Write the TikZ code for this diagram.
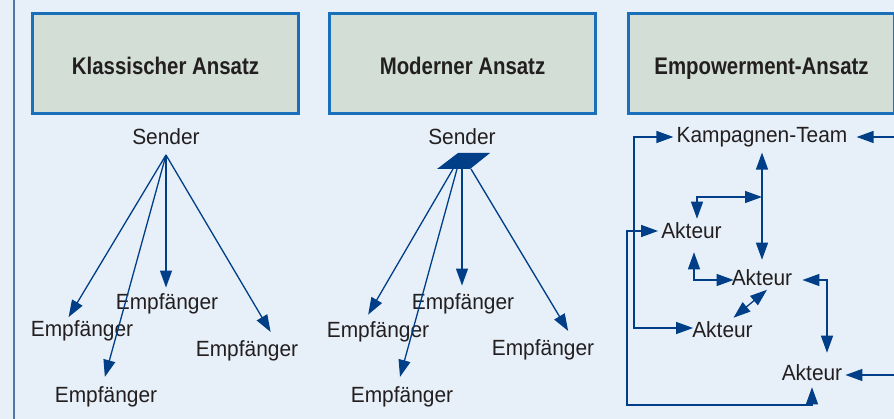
\documentclass[tikz,border=0pt]{standalone}
\usepackage{fontspec}
\setmainfont{Liberation Sans}[FakeStretch=0.95]
\newfontfamily\headfont{Liberation Sans}[FakeStretch=0.85]
\usepackage{tikz}
\usetikzlibrary{arrows.meta}
\definecolor{bgblue}{HTML}{E7F0F9}
\definecolor{boxfill}{HTML}{D3DFD6}
\definecolor{boxline}{HTML}{1A6FBA}
\definecolor{frameline}{HTML}{5078A8}
\definecolor{ink}{HTML}{231F20}
\definecolor{dblue}{HTML}{003F87}
\tikzstyle{ansatz}=[draw=boxline,line width=2.6pt,fill=boxfill,minimum width=266.5pt,minimum height=100.5pt,text height=22pt,text depth=0pt,text=ink,font=\headfont\bfseries\fontsize{24}{28}\selectfont]
\tikzstyle{txt}=[inner xsep=3pt,inner ysep=4pt,text=ink,font=\fontsize{22}{26}\selectfont]
\tikzstyle{rcv}=[txt,inner sep=0pt]
\tikzstyle{msghead}=[>/.tip={Triangle[length=17pt 0 0,width=12pt 0 0]}]
\tikzstyle{msg} =[line width=1.3pt,draw=dblue,msghead,->]
\tikzstyle{msgs}=[line width=1.3pt,draw=dblue,msghead,<->]

\begin{document}
\begin{tikzpicture}[x=1pt,y=-1pt]
	\useasboundingbox (0,0) rectangle (894,419);
	\fill[bgblue] (0,0) rectangle (894,419);
	\draw[frameline,line width=1.5pt] (14,-2) -- (14,421);
	\node[ansatz] (h1) at (165.5,63.5) {Klassischer Ansatz};
	\node[ansatz] (h2) at (462.5,63.5) {Moderner Ansatz};
	\node[ansatz] (h3) at (761.5,63.5) {Empowerment-Ansatz};
	% klassisch
	\node[txt] (s1) at (166,137) {Sender};
	\coordinate (p1) at (166,155);
	\node[rcv] (e1) at (82,331)  {Empfänger};
	\node[rcv] (e2) at (106,397) {Empfänger};
	\node[rcv] (e3) at (167,304) {Empfänger};
	\node[rcv] (e4) at (247,351) {Empfänger};
	\draw[msg,shorten >=4pt]  (p1) -- (e1.146);
	\draw[msg,shorten >=10pt] (p1) -- (e2.110);
	\draw[msg,shorten >=6pt]  (p1) -- (p1 |- e3.north);
	\draw[msg,shorten >=10pt] (p1) -- (e4.20);
	% modern
	\node[txt] (s2) at (462,137) {Sender};
	\fill[dblue] (437,169) -- (458,153) -- (490,153) -- (470,169) -- cycle;
	\coordinate (q1) at (453,169);
	\coordinate (q2) at (457,169);
	\coordinate (q3) at (462,169);
	\coordinate (q4) at (471,169);
	\node[rcv] (f1) at (378,332) {Empfänger};
	\node[rcv] (f2) at (402,397) {Empfänger};
	\node[rcv] (f3) at (463,304) {Empfänger};
	\node[rcv] (f4) at (543,350) {Empfänger};
	\draw[msg,shorten >=8pt]  (q1) -- (f1.143);
	\draw[msg,shorten >=10pt] (q2) -- (f2.114);
	\draw[msg,shorten >=8pt]  (q3) -- (q3 |- f3.north);
	\draw[msg,shorten >=10pt] (q4) -- (f4.19);
	% empowerment
	\node[txt] (k)  at (762,137)   {Kampagnen-Team};
	\node[txt] (a1) at (691.5,231) {Akteur};
	\node[txt] (a2) at (762,277.5) {Akteur};
	\node[txt] (a3) at (722.5,330) {Akteur};
	\node[txt] (a4) at (812,373)   {Akteur};
	\coordinate (j)  at (762,197);
	\coordinate (r1) at (900,137);
	\coordinate (r2) at (900,375);
	\draw[msgs,shorten <=1.5pt,shorten >=5.5pt] (k.south) -- (a2.north);
	\draw[msgs] (j) -| ([xshift=5.5pt]a1.north);
	\draw[msgs,shorten <=9pt,shorten >=-5pt] ([xshift=2.5pt]a1.south) |- ([yshift=-2.5pt]a2.west);
	\draw[msgs] ([xshift=5pt]a2.south) -- ([xshift=11pt]a3.north);
	\draw[msgs,shorten <=7pt,shorten >=8pt] ([yshift=-2.5pt]a2.east) -| ([xshift=15pt]a4.north);
	\draw[msgs,shorten >=-4pt] (k.west) -- ++(-39.5,0) |- ([yshift=2pt]a3.west);
	\draw[msgs,shorten >=2pt] (a1.west) -- ++(-31,0) -- ++(0,174) -| (a4.south);
	\draw[msg,shorten >=6pt] (r1) -- (k.east);
	\draw[msg] (r2) -- ([yshift=-2pt]a4.east);
\end{tikzpicture}
\end{document}
